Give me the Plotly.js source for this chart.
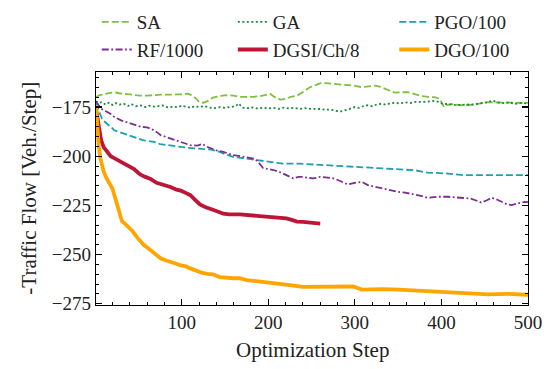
<!DOCTYPE html>
<html>
<head>
<meta charset="utf-8">
<script src="https://cdn.plot.ly/plotly-3.0.1.min.js"></script>
<style>
  html, body { margin: 0; padding: 0; background: #fff; }
  #plot { width: 553px; height: 369px; }
</style>
</head>
<body>
<div id="plot"></div>
<script>
// Objective traces per optimiser
const saX = [1,5,10,16,22,28,33,40,45,52,60,68,76,85,91,100,107,112,116,120,125,130,136,145,152,160,167,175,183,190,197,202,206,210,215,221,226,233,240,245,248,254,258,261,270,277,285,292,300,308,315,323,330,335,340,346,355,361,368,377,385,392,398,401,403,406,412,423,430,438,446,454,462,469,484,500];
const saY = [-170,-169,-168.5,-168,-167.5,-168,-168.3,-168.8,-169,-169.2,-169.2,-168.8,-168.7,-168.7,-168.7,-168.5,-168.2,-169,-170.5,-172.3,-172.8,-172,-170.2,-169.3,-169,-169.2,-169.8,-169.9,-169.8,-169.5,-168.8,-168.3,-169.5,-170.8,-171.2,-170.8,-169.8,-169.3,-167.4,-166,-165,-164,-163.3,-162.7,-163,-163.2,-163.5,-163.7,-164.2,-164.9,-164.5,-164.1,-164.8,-165.7,-166.7,-167.7,-167.5,-167.4,-168.3,-169.4,-169.8,-170,-170.8,-173,-175,-174,-173.5,-174.1,-174,-173.8,-173,-172.5,-172.7,-172.8,-172.8,-172.9];

const gaX = [1,4,8,12,16,20,24,28,33,38,42,47,52,58,63,68,73,78,84,90,95,100,105,110,115,120,126,132,138,144,150,156,162,166,170,176,182,188,194,200,206,212,218,224,230,236,242,248,254,260,266,272,278,284,290,295,300,305,310,315,320,326,331,336,341,346,352,358,364,370,377,383,388,392,397,402,407,413,418,423,428,433,438,443,448,454,459,464,469,474,479,484,488,493,500];
const gaY = [-172,-173,-172.5,-173.8,-172.8,-174,-173,-173.8,-173.3,-174.5,-173.5,-174.6,-174.2,-175,-174.3,-174.8,-174.5,-174.2,-175.2,-174.8,-175.1,-174.3,-174.8,-175.4,-174.6,-175,-174.5,-175.3,-175.6,-175.1,-175.4,-175,-174.6,-173.2,-175.3,-175.6,-175.2,-175.8,-175.3,-175.7,-175.4,-175.9,-175.3,-175.7,-175.4,-176,-175.6,-175.9,-175.8,-176,-176.4,-176.3,-176.9,-177.2,-176.5,-175.8,-175,-175.4,-174.5,-174.1,-174.6,-173.6,-173.3,-173.8,-173.1,-172.8,-173.2,-172.6,-173,-172.4,-172.5,-172.3,-172.1,-171.8,-172.4,-173.6,-173.3,-174,-173.8,-174.1,-173.6,-173.9,-173.6,-173.2,-172.6,-172.5,-171.7,-172.6,-172.8,-173.1,-172.5,-173.4,-173.3,-172.9,-173.2];

const pgoX = [1,3,6,8,11,14,18,22,27,33,39,45,50,56,62,68,75,83,91,99,107,114,124,133,140,144,150,160,168,175,183,190,200,206,217,236,254,277,300,331,354,369,380,384,407,425,469,500];
const pgoY = [-173,-175,-179,-181,-182.5,-183.5,-185,-186.8,-187.5,-188.5,-189.3,-190.2,-191,-191.9,-192.3,-192.7,-193.8,-194.4,-195,-195.3,-195.7,-196.1,-196.3,-196.5,-197.2,-197.8,-199,-200.4,-200.8,-201.2,-201.6,-202,-202.5,-202.9,-203.8,-203.8,-204.2,-204.9,-205.4,-205.9,-206.6,-207.1,-208,-208.3,-208.8,-209.6,-209.6,-209.6];

const rfX = [1,3,7,14,18,22,26,30,35,41,47,53,60,64,68,72,76,82,87,93,99,104,110,118,124,128,133,140,148,155,160,168,175,183,187,190,194,200,206,213,221,229,235,240,246,252,260,269,275,281,287,292,300,308,315,323,331,340,350,358,365,375,384,395,407,420,434,440,446,452,458,464,469,476,481,488,496,500];
const rfY = [-172,-173.3,-175.9,-177.5,-178.5,-180,-181,-181.8,-182.5,-183.5,-184.3,-185.1,-185.3,-186,-186.8,-188,-189.4,-190.2,-191,-192,-192.8,-193.5,-194.4,-194.6,-193.8,-195,-196,-197,-197.8,-199,-199.5,-200,-200.4,-201.2,-202.3,-203.7,-206,-206.5,-207,-208,-209.6,-211.3,-210.5,-210.5,-211,-211.3,-210.5,-211,-211.2,-212.2,-213.5,-214.4,-213.5,-213,-214.7,-215.5,-216.4,-217.3,-218.1,-218.5,-219,-220,-221.1,-220.6,-220.6,-221,-221.5,-222.5,-223.5,-222.5,-221.1,-222,-223.2,-224.5,-224.8,-224,-223.2,-223.3];

const dgsiX = [1,3,5,7,10,14,18,22,26,30,34,37,41,45,50,53,58,64,71,76,82,87,94,99,104,110,114,118,121,127,133,140,148,155,167,175,186,198,206,215,221,228,233,240,250,260];
const dgsiY = [-176,-182,-188,-192,-195.5,-198,-200,-201,-202,-203,-204,-205,-206,-206.5,-208.5,-209.5,-210.5,-211.5,-213.5,-214,-215,-215.6,-217,-217.5,-218.5,-219.8,-221.5,-223,-224.5,-225.8,-226.5,-227.8,-229.2,-229.5,-229.5,-229.8,-230.1,-230.6,-231,-231.3,-231.6,-232.5,-233.2,-233.4,-233.8,-234.2];

const dgoX = [1,2,3,4,6,8,10,13,17,20,23,27,31,35,43,49,56,62,66,72,76,82,87,93,99,105,110,115,120,124,130,136,144,152,160,167,175,183,190,200,213,225,240,260,280,292,298,308,331,350,369,384,407,438,454,477,500];
const dgoY = [-174,-181,-188,-194,-201,-205,-208,-211,-214.5,-216.5,-221,-227,-233,-234.5,-238,-241.5,-245,-247,-248.5,-250.5,-252,-253,-253.5,-254.5,-255.5,-256,-257,-258,-259,-259.3,-259.8,-260,-261.4,-261.8,-262,-262,-263,-263.3,-263.6,-264,-264.8,-265.5,-266.4,-266.4,-266.3,-266,-266.2,-267.8,-267.5,-267.8,-268.2,-268.7,-269.2,-269.8,-270.2,-269.9,-270.4];

const xTitle = 'Optimization Step';
const yTitle = '-Traffic Flow [Veh./Step]';

const FONT = 'Liberation Serif, Times New Roman, serif';

const traces = [
  { x: saX,   y: saY,   name: 'SA',        legend: 'legend',  line: { color: '#7cc23c', width: 1.8, dash: '7px,3px' } },
  { x: gaX,   y: gaY,   name: 'GA',        legend: 'legend2', line: { color: '#178a3e', width: 1.8, dash: '2px,2.5px' } },
  { x: pgoX,  y: pgoY,  name: 'PGO/100',   legend: 'legend3', line: { color: '#1aa2ad', width: 1.8, dash: '7px,3px' } },
  { x: rfX,   y: rfY,   name: 'RF/1000',   legend: 'legend',  line: { color: '#7d2e8f', width: 1.8, dash: '7px,2.5px,1.8px,2.5px' } },
  { x: dgsiX, y: dgsiY, name: 'DGSI/Ch/8', legend: 'legend2', line: { color: '#be1537', width: 3.8 } },
  { x: dgoX,  y: dgoY,  name: 'DGO/100',   legend: 'legend3', line: { color: '#ffa500', width: 3.8 } },
].map(t => Object.assign({ type: 'scatter', mode: 'lines', hoverinfo: 'skip' }, t));

const legendBase = {
  xref: 'container', yref: 'container', xanchor: 'left', yanchor: 'top', y: 0.992,
  bgcolor: 'rgba(0,0,0,0)', font: { family: FONT, size: 19, color: '#222' },
  tracegroupgap: 0, itemwidth: 30,
};

const axisBase = {
  showline: true, linecolor: '#000', linewidth: 1.3, mirror: 'allticks',
  ticks: 'inside', ticklen: 6, tickwidth: 1.1, tickcolor: '#000',
  showgrid: false, zeroline: false,
  tickfont: { family: FONT, size: 19, color: '#222' },
};

const titleFont = { family: FONT, size: 21, color: '#222' };

const layout = {
  width: 553, height: 369,
  margin: { l: 96, r: 25, t: 72, b: 64, autoexpand: false },
  paper_bgcolor: '#fff', plot_bgcolor: '#fff',
  showlegend: true,
  legend:  Object.assign({}, legendBase, { x: 0.175 }),
  legend2: Object.assign({}, legendBase, { x: 0.421 }),
  legend3: Object.assign({}, legendBase, { x: 0.713 }),
  xaxis: Object.assign({}, axisBase, {
    range: [1, 500], tick0: 0, dtick: 100,
    minor: { tick0: 0, dtick: 20, ticks: 'inside', ticklen: 3, tickwidth: 1, tickcolor: '#000' },
  }),
  yaxis: Object.assign({}, axisBase, {
    range: [-275.6, -157.2], tick0: 0, dtick: 25,
    minor: { tick0: 0, dtick: 5, ticks: 'inside', ticklen: 3, tickwidth: 1, tickcolor: '#000' },
  }),
  // axis titles as annotations (mirrored tick labels confuse the built-in title placement)
  annotations: [
    { text: xTitle, xref: 'paper', yref: 'paper', x: 0.5, y: -0.193, xanchor: 'center', yanchor: 'middle',
      showarrow: false, font: titleFont },
    { text: yTitle, xref: 'paper', yref: 'paper', x: -0.157, y: 0.5, xanchor: 'center', yanchor: 'middle',
      textangle: -90, showarrow: false, font: titleFont },
  ],
};

Plotly.newPlot('plot', traces, layout, { displayModeBar: false, staticPlot: true });
</script>
</body>
</html>
